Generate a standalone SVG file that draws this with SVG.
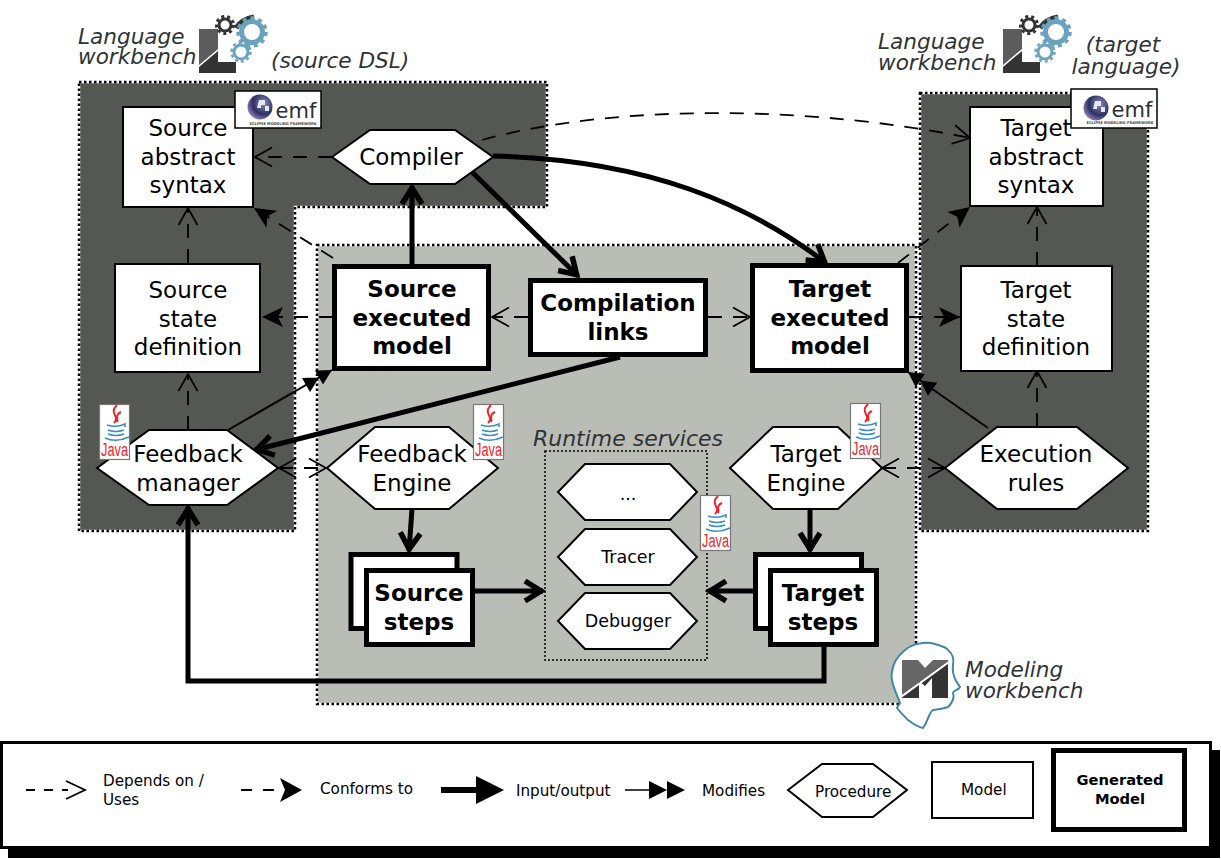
<svg xmlns="http://www.w3.org/2000/svg" xmlns:xlink="http://www.w3.org/1999/xlink" width="1221" height="859" viewBox="0 0 1221 859">
<style>
text{font-family:"DejaVu Sans",sans-serif;text-anchor:middle;fill:#000}
.n{font-size:23px}
.b{font-size:23px;font-weight:700}
.s{font-size:17.5px}
.i{font-size:21.6px;font-style:italic;fill:#2e3436;text-anchor:start}
.im{font-size:21.6px;font-style:italic;fill:#2e3436}
.r{font-size:22px;font-style:italic;fill:#2e3436}
.l{font-size:15.2px;text-anchor:start}
.lb{font-size:14.7px;font-weight:700}
.box{fill:#fff;stroke:#000;stroke-width:2}
.gen{fill:#fff;stroke:#000;stroke-width:5}
.dark{fill:#555753;stroke:#fff;stroke-width:2.5}
.light{fill:#babdb6;stroke:#fff;stroke-width:2.5}
.dots{fill:none;stroke:#000;stroke-width:2.5;stroke-dasharray:2.5 2.5}
.c{fill:none;stroke:#000}
.dep{stroke-width:1.8;stroke-dasharray:14 11;marker-end:url(#open)}
.conf{stroke-width:1.8;stroke-dasharray:14 11;marker-end:url(#fill)}
.both{stroke-width:1.8;stroke-dasharray:14 11;marker-start:url(#openS);marker-end:url(#open)}
.mod{stroke-width:2;marker-end:url(#dbl)}
.io{stroke-width:5;marker-end:url(#thick)}
.java{font-family:"Liberation Sans",sans-serif;font-size:18px;fill:#e8262d}
.emf{font-size:21px;fill:#2e2e33}
.emfs{font-size:3.8px;fill:#444;font-weight:700}
</style>
<defs>
<marker id="open" markerUnits="userSpaceOnUse" markerWidth="24" markerHeight="24" refX="20" refY="12" orient="auto" overflow="visible"><path d="M3,2.5 L20,12 L3,21.5" fill="none" stroke="#000" stroke-width="1.8"/></marker>
<marker id="openS" markerUnits="userSpaceOnUse" markerWidth="24" markerHeight="24" refX="4" refY="12" orient="auto" overflow="visible"><path d="M21,2.5 L4,12 L21,21.5" fill="none" stroke="#000" stroke-width="1.8"/></marker>
<marker id="fill" markerUnits="userSpaceOnUse" markerWidth="26" markerHeight="26" refX="22" refY="13" orient="auto" overflow="visible"><path d="M1,3 L22,13 L1,23 L6,13 Z" fill="#000"/></marker>
<marker id="dbl" markerUnits="userSpaceOnUse" markerWidth="34" markerHeight="24" refX="30" refY="12" orient="auto" overflow="visible"><path d="M0,4 L15,12 L0,20 Z M15,4 L30,12 L15,20 Z" fill="#000"/></marker>
<marker id="thick" markerUnits="userSpaceOnUse" markerWidth="30" markerHeight="30" refX="24" refY="15" orient="auto" overflow="visible"><path d="M6,5 L22,15 L6,25" fill="none" stroke="#000" stroke-width="5.5"/></marker>
<radialGradient id="globe" cx="0.65" cy="0.35" r="0.8"><stop offset="0" stop-color="#8a8ab5"/><stop offset="0.55" stop-color="#2c2f63"/><stop offset="1" stop-color="#b79ad0"/></radialGradient>
<g id="gears">
<path d="M199,29H218V49L199,65Z" fill="#5c5c5c"/>
<path d="M199,73H236V62H218V51L199,67Z" fill="#343434"/>
<circle cx="225" cy="25" r="6" fill="none" stroke="#333" stroke-width="3"/>
<circle cx="225" cy="25" r="8.5" fill="none" stroke="#333" stroke-width="3" stroke-dasharray="3 3"/>
<path d="M236,28 Q242,19 254,17" fill="none" stroke="#333" stroke-width="5"/>
<circle cx="252" cy="32" r="10.5" fill="none" stroke="#6ba3bf" stroke-width="5"/>
<circle cx="252" cy="32" r="14" fill="none" stroke="#6ba3bf" stroke-width="3.5" stroke-dasharray="4 4"/>
<circle cx="241" cy="52" r="7" fill="none" stroke="#6ba3bf" stroke-width="3"/>
<circle cx="241" cy="52" r="9.5" fill="none" stroke="#6ba3bf" stroke-width="2.5" stroke-dasharray="3 3"/>
</g>
<g id="javaCup">
<rect x="0.5" y="0.5" width="30" height="55" fill="#fff" stroke="#777" stroke-width="1.2"/>
<path d="M18,1 C9,10 22,12 15,19 M22,8 C15,11 20,15 18,18" fill="none" stroke="#e8262d" stroke-width="2"/>
<path d="M8,21 Q17,24 26,20 L26,23 M9,26 Q17,29 25,26 M9,30 Q17,33 25,30 M6,34 Q17,39 30,33" fill="none" stroke="#3a8ccc" stroke-width="1.5"/>
</g>
<g id="globeG">
<circle cx="25" cy="16" r="12.5" fill="url(#globe)"/>
<path d="M24,9h6v5h-4v3h-4zM30,15h4v5h-4z" fill="#e6e6f2"/>
</g>
</defs>
<rect width="1221" height="859" fill="#fff"/>
<g id="panels">
<path class="dark" d="M79,82H547V207H295V531H79Z"/>
<path class="dots" d="M79,82H547V207H295V531H79Z"/>
<rect class="dark" x="920" y="93" width="228" height="438"/>
<rect class="dots" x="920" y="93" width="228" height="438"/>
<rect class="light" x="317" y="245" width="599" height="459"/>
<rect class="dots" x="317" y="245" width="599" height="459"/>
</g>
<g id="connectors">
<path class="c dep" d="M332,157H255"/>
<path class="c dep" d="M482,140C620,102 820,107 970,138"/>
<path class="c conf" d="M333,258L254,208"/>
<path class="c conf" d="M333,317H262"/>
<path class="c dep" d="M528,317H492"/>
<path class="c dep" d="M708,317H750"/>
<path class="c conf" d="M898,263L970,207"/>
<path class="c conf" d="M909,317H960"/>
<path class="c dep" d="M188,263V208"/>
<path class="c dep" d="M188,430V374"/>
<path class="c dep" d="M1037,266V207"/>
<path class="c dep" d="M1037,427V371"/>
<path class="c both" d="M279,468H326"/>
<path class="c both" d="M882,468H945"/>
<path class="c mod" d="M228,430L332,370"/>
<path class="c mod" d="M988,428L908,372"/>
<path class="c io" d="M412,264V186"/>
<path class="c io" d="M470,170L578,276"/>
<path class="c io" d="M493,156C650,160 750,205 826,263"/>
<path class="c io" d="M620,357L255,450"/>
<path class="c io" d="M412,509L409,551"/>
<path class="c io" d="M810,509V551"/>
<path class="c io" d="M475,591H543"/>
<path class="c io" d="M753,591H708"/>
<path class="c io" d="M824,647V681H188V507"/>
</g>
<g id="wb-source">
<text class="i" x="78" y="44">Language</text>
<text class="i" x="78" y="64">workbench</text>
<use xlink:href="#gears" href="#gears"/>
<text class="i" x="271" y="68">(source DSL)</text>
</g>
<g id="wb-target">
<text class="i" x="878" y="49">Language</text>
<text class="i" x="878" y="70">workbench</text>
<use xlink:href="#gears" href="#gears" x="804"/>
<text class="im" x="1123" y="52">(target</text>
<text class="im" x="1126" y="74">language)</text>
</g>
<g id="wb-modeling">
<path d="M900,703C895,690 890,680 892,672C893,662 900,654 905,650C912,644 925,641 935,644C942,646 947,648 948,650C953,654 954,660 953,665C952,672 954,677 956,681L960,687C958,691 953,690 953,693C955,698 953,702 948,707C943,709 938,709 933,710C930,712 930,715 928,718C927,722 925,725 923,728C917,727 912,723 908,720C904,716 900,712 897,708Z" fill="#fff" stroke="#3f87a8" stroke-width="2"/>
<path d="M902,660H918L925,668L933,660H948V662L902,695Z" fill="#666"/>
<path d="M948,663V698H932V678L925,686L919,681V698H902V696Z" fill="#343434"/>
<path d="M901,697L949,662" stroke="#fff" stroke-width="2" fill="none"/>
<text class="i" x="965" y="677">Modeling</text>
<text class="i" x="965" y="698">workbench</text>
</g>
<g id="source-abstract-syntax">
<rect class="box" x="123" y="107" width="130" height="100"/>
<text class="n" x="188" y="136">Source</text><text class="n" x="188" y="165">abstract</text><text class="n" x="188" y="193">syntax</text>
</g>
<g id="emf-source" transform="translate(235,91)">
<rect width="86" height="37" fill="#fff" stroke="#000" stroke-width="1.5"/>
<use xlink:href="#globeG" href="#globeG"/>
<text class="emf" x="61" y="27">emf</text>
<text class="emfs" x="48" y="34" textLength="67" lengthAdjust="spacingAndGlyphs">ECLIPSE MODELING FRAMEWORK</text>
</g>
<g id="compiler">
<path class="box" d="M332,157L370,130H455L493,157L455,184H370Z"/>
<text class="n" x="411" y="165">Compiler</text>
</g>
<g id="source-state-definition">
<rect class="box" x="115" y="264" width="145" height="108"/>
<text class="n" x="188" y="298">Source</text><text class="n" x="188" y="327">state</text><text class="n" x="188" y="355">definition</text>
</g>
<g id="source-executed-model">
<rect class="gen" x="334.5" y="266.5" width="154" height="102"/>
<text class="b" x="412" y="297">Source</text><text class="b" x="412" y="326">executed</text><text class="b" x="412" y="354">model</text>
</g>
<g id="compilation-links">
<rect class="gen" x="530.5" y="280.5" width="175" height="74"/>
<text class="b" x="618" y="311">Compilation</text><text class="b" x="618" y="340">links</text>
</g>
<g id="target-executed-model">
<rect class="gen" x="752.5" y="265.5" width="154" height="105"/>
<text class="b" x="830" y="297">Target</text><text class="b" x="830" y="326">executed</text><text class="b" x="830" y="354">model</text>
</g>
<g id="target-abstract-syntax">
<rect class="box" x="970" y="107" width="133" height="99"/>
<text class="n" x="1036" y="136">Target</text><text class="n" x="1036" y="165">abstract</text><text class="n" x="1036" y="193">syntax</text>
</g>
<g id="emf-target" transform="translate(1071,89)">
<rect width="86" height="39" fill="#fff" stroke="#000" stroke-width="1.5"/>
<use xlink:href="#globeG" href="#globeG" y="3"/>
<text class="emf" x="61" y="28">emf</text>
<text class="emfs" x="49" y="35" textLength="67" lengthAdjust="spacingAndGlyphs">ECLIPSE MODELING FRAMEWORK</text>
</g>
<g id="target-state-definition">
<rect class="box" x="961" y="266" width="151" height="105"/>
<text class="n" x="1036" y="298">Target</text><text class="n" x="1036" y="327">state</text><text class="n" x="1036" y="355">definition</text>
</g>
<g id="feedback-manager">
<path class="box" d="M97,468L149,430H227L278,468L227,505H149Z"/>
<text class="n" x="188" y="462">Feedback</text><text class="n" x="188" y="491">manager</text>
</g>
<g id="java-1" transform="translate(99,404)"><use xlink:href="#javaCup" href="#javaCup"/><text class="java" x="15.5" y="51.5" textLength="27" lengthAdjust="spacingAndGlyphs">Java</text></g>
<g id="feedback-engine">
<path class="box" d="M327,468L375,427H449L498,468L449,509H375Z"/>
<text class="n" x="412" y="462">Feedback</text><text class="n" x="412" y="491">Engine</text>
</g>
<g id="java-2" transform="translate(473,404)"><use xlink:href="#javaCup" href="#javaCup"/><text class="java" x="15.5" y="51.5" textLength="27" lengthAdjust="spacingAndGlyphs">Java</text></g>
<g id="target-engine">
<path class="box" d="M730,468L773,427H838L882,468L838,509H773Z"/>
<text class="n" x="806" y="462">Target</text><text class="n" x="806" y="491">Engine</text>
</g>
<g id="java-3" transform="translate(850,403)"><use xlink:href="#javaCup" href="#javaCup"/><text class="java" x="15.5" y="51.5" textLength="27" lengthAdjust="spacingAndGlyphs">Java</text></g>
<g id="execution-rules">
<path class="box" d="M945,468L997,427H1077L1128,468L1077,509H997Z"/>
<text class="n" x="1036" y="462">Execution</text><text class="n" x="1036" y="491">rules</text>
</g>
<g id="source-steps">
<rect class="gen" x="351" y="554.5" width="106" height="74"/>
<rect class="gen" x="366.5" y="570.5" width="106" height="74"/>
<text class="b" x="419" y="601">Source</text><text class="b" x="419" y="630">steps</text>
</g>
<g id="target-steps">
<rect class="gen" x="755.5" y="554.5" width="106" height="74"/>
<rect class="gen" x="770.5" y="570.5" width="106" height="74"/>
<text class="b" x="823" y="601">Target</text><text class="b" x="823" y="630">steps</text>
</g>
<g id="runtime-services">
<rect x="545" y="451" width="162" height="209" fill="none" stroke="#000" stroke-width="1.5" stroke-dasharray="2 2"/>
<text class="r" x="628" y="446">Runtime services</text>
</g>
<g id="runtime-more">
<path class="box" d="M558,492L585,464H670L697,492L670,520H585Z"/>
<text class="s" x="628" y="500">...</text>
</g>
<g id="tracer">
<path class="box" d="M558,557L585,529H670L697,557L670,585H585Z"/>
<text class="s" x="628" y="563">Tracer</text>
</g>
<g id="debugger">
<path class="box" d="M558,621L585,593H670L697,621L670,649H585Z"/>
<text class="s" x="628" y="627">Debugger</text>
</g>
<g id="java-4" transform="translate(700,495)"><use xlink:href="#javaCup" href="#javaCup"/><text class="java" x="15.5" y="51.5" textLength="27" lengthAdjust="spacingAndGlyphs">Java</text></g>
<g id="legend">
<rect x="8" y="750" width="1212" height="108" fill="#000"/>
<rect x="1.5" y="742.5" width="1209" height="105" fill="#fff" stroke="#000" stroke-width="3"/>
<path class="c" d="M26,790H68" stroke-width="1.8" stroke-dasharray="9 9"/>
<path class="c" d="M66,781L85,790L66,799" stroke-width="1.8"/>
<text class="l" x="103" y="786">Depends on /</text><text class="l" x="103" y="805">Uses</text>
<path class="c" d="M241,790H275" stroke-width="1.8" stroke-dasharray="11 11"/>
<path d="M280,778L302,790L280,802L285,790Z" fill="#000"/>
<text class="l" x="320" y="794">Conforms to</text>
<path class="c" d="M441,790H480" stroke-width="6"/>
<path d="M476,776L504,790L476,804Z" fill="#000"/>
<text class="l" x="516" y="796">Input/output</text>
<path class="c" d="M625,790H650" stroke-width="1.5"/>
<path d="M649,781L667,790L649,799ZM667,781L685,790L667,799Z" fill="#000"/>
<text class="l" x="702" y="796">Modifies</text>
<path class="box" d="M788,790L822,764H873L907,790L873,817H822Z"/>
<text class="l" x="815" y="797">Procedure</text>
<rect class="box" x="932" y="762" width="101" height="56"/>
<text class="l" x="961" y="795">Model</text>
<rect class="gen" x="1053.5" y="750.5" width="131" height="79"/>
<text class="lb" x="1120" y="785">Generated</text><text class="lb" x="1120" y="804">Model</text>
</g>
</svg>
